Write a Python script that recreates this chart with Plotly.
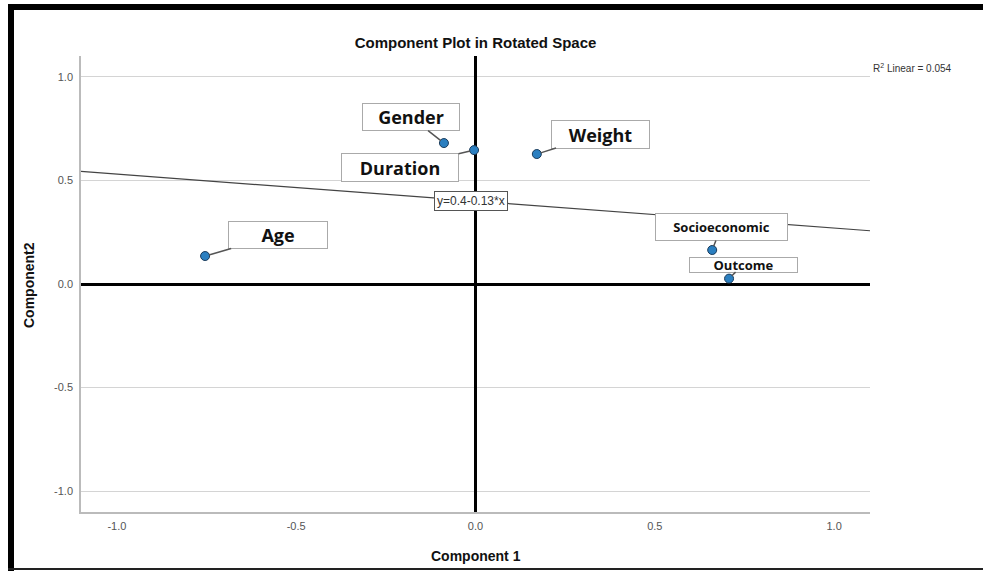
import plotly.graph_objects as go

# Rotated component loadings
components = ["Age", "Gender", "Duration", "Weight", "Socioeconomic", "Outcome"]
comp1 = [-0.754, -0.088, -0.004, 0.171, 0.660, 0.707]
comp2 = [0.135, 0.680, 0.646, 0.627, 0.164, 0.026]

# Linear fit reported on the chart
fit_intercept = 0.4
fit_slope = -0.13
fit_r2 = 0.054

# Axis ticks
tick_vals = [-1.0, -0.5, 0.0, 0.5, 1.0]
tick_text = ["-1.0", "-0.5", "0.0", "0.5", "1.0"]

AX_RANGE = [-1.1, 1.1]

W, H = 983, 571
ML, MR, MT, MB = 81, 113, 56, 59
PW, PH = W - ML - MR, H - MT - MB


def px_x(p):
    return (p - ML) / PW


def px_y(p):
    return (H - MB - p) / PH


# Label box styling: (offset x, offset y, box w, box h, font size)
label_style = {
    "Age": (73, -21, 100, 28, 18),
    "Gender": (-33, -26, 98, 28, 18),
    "Duration": (-74, 17, 118, 29, 18),
    "Weight": (64, -20, 99, 29, 18),
    "Socioeconomic": (9, -23, 133, 28, 13),
    "Outcome": (14, -14, 109, 16, 13),
}

fig = go.Figure()

# Fit line across the full horizontal range
fig.add_trace(go.Scatter(
    x=AX_RANGE,
    y=[fit_intercept + fit_slope * v for v in AX_RANGE],
    mode="lines",
    line=dict(color="#444444", width=1.2),
    hoverinfo="skip",
    showlegend=False,
))

fig.add_trace(go.Scatter(
    x=comp1, y=comp2, mode="markers",
    marker=dict(size=9, color="#2b7fc0", line=dict(color="#1b3c5c", width=1)),
    text=components,
    showlegend=False,
))

annotations = []
for name, cx, cy in zip(components, comp1, comp2):
    ox, oy, bw, bh, fs = label_style[name]
    annotations.append(dict(
        x=cx, y=cy, xref="x", yref="y",
        text=f"<b>{name}</b>",
        showarrow=True, arrowhead=0, arrowwidth=1.5, arrowcolor="#555555",
        standoff=4, ax=ox, ay=oy,
        width=bw - 2, height=bh - 2, borderpad=0,
        bgcolor="white", bordercolor="#aaaaaa", borderwidth=1,
        font=dict(family="Open Sans", size=fs, color="#111111"),
        align="center", valign="middle",
    ))

# Fit equation tag on the line
sign = "-" if fit_slope < 0 else "+"
annotations.append(dict(
    x=0, y=fit_intercept, xref="x", yref="y", xshift=-5,
    text=f"y={fit_intercept:g}{sign}{abs(fit_slope):g}*x",
    showarrow=False, bgcolor="white", bordercolor="#555555", borderwidth=1,
    borderpad=2,
    font=dict(family="Liberation Sans", size=12, color="#333333"),
))

annotations.append(dict(
    x=1.0, y=px_y(68), xref="paper", yref="paper",
    xanchor="left", yanchor="middle", xshift=1,
    text=f"R<sup>2</sup> Linear = {fit_r2:.3f}",
    showarrow=False,
    font=dict(family="Liberation Sans", size=10, color="#333333"),
))

annotations.append(dict(
    x=0.5, y=px_y(556), xref="paper", yref="paper",
    xanchor="center", yanchor="middle",
    text="<b>Component 1</b>", showarrow=False,
    font=dict(family="Liberation Sans", size=14, color="#111111"),
))
annotations.append(dict(
    x=px_x(29), y=px_y(285), xref="paper", yref="paper",
    xanchor="center", yanchor="middle", textangle=-90,
    text="<b>Component2</b>", showarrow=False,
    font=dict(family="Liberation Sans", size=14, color="#111111"),
))

# Picture frame
shapes = [
    dict(type="rect", xref="paper", yref="paper", layer="above",
         x0=px_x(8), x1=px_x(983), y0=px_y(10), y1=px_y(4),
         fillcolor="black", line=dict(width=0)),
    dict(type="rect", xref="paper", yref="paper", layer="above",
         x0=px_x(8), x1=px_x(14), y0=px_y(571), y1=px_y(4),
         fillcolor="black", line=dict(width=0)),
    dict(type="rect", xref="paper", yref="paper", layer="above",
         x0=px_x(8), x1=px_x(983), y0=px_y(570), y1=px_y(568),
         fillcolor="#222222", line=dict(width=0)),
]

axis_common = dict(
    range=AX_RANGE, tickvals=tick_vals, ticktext=tick_text,
    tickfont=dict(family="Liberation Sans", size=11, color="#555555"),
    showline=True, linecolor="#bbbbbb", linewidth=1.5,
    zeroline=True, zerolinecolor="black", zerolinewidth=3,
    ticks="", fixedrange=True,
)

fig.update_layout(
    width=W, height=H,
    margin=dict(l=ML, r=MR, t=MT, b=MB, autoexpand=False),
    paper_bgcolor="white", plot_bgcolor="white",
    title=dict(text="<b>Component Plot in Rotated Space</b>",
               x=0.5, xref="paper", y=1 - 43 / H, yref="container",
               xanchor="center", yanchor="middle",
               font=dict(family="Liberation Sans", size=15, color="#111111")),
    xaxis=dict(**axis_common, showgrid=False, ticklabelstandoff=3),
    yaxis=dict(**axis_common, showgrid=True, gridcolor="#d4d4d4",
               gridwidth=1, ticklabelstandoff=4),
    annotations=annotations,
    shapes=shapes,
    showlegend=False,
)

fig.write_html("out.html")
